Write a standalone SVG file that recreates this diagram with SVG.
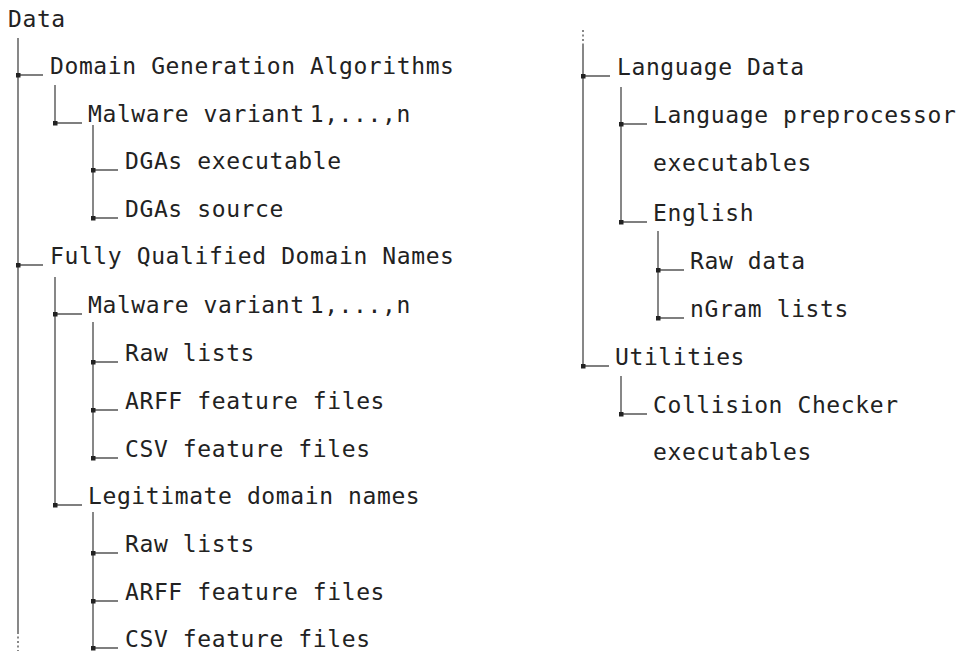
<svg xmlns="http://www.w3.org/2000/svg" width="961" height="651" viewBox="0 0 961 651">
<style>
text{font-family:"DejaVu Sans Mono","Liberation Mono",monospace;font-size:23px;letter-spacing:0.6px;fill:#222}
.ln{stroke:#555;stroke-width:1.4;fill:none}
.dot{stroke:#555;stroke-width:1.4;fill:none;stroke-dasharray:2 2.5}
.mk{fill:#222}
</style>
<rect width="961" height="651" fill="#fff"/>
<g id="connectors">
<!-- left main -->
<path class="ln" d="M18 38V632"/>
<path class="dot" d="M18 632V651"/>
<path class="ln" d="M18 75H43M18 265H43"/>
<path class="ln" d="M55 85V123H82"/>
<path class="ln" d="M93 125V218M93 170H118M93 218H118"/>
<path class="ln" d="M55 277V505M55 314H82M55 505H82"/>
<path class="ln" d="M93 322V458M93 362H118M93 410H118M93 458H118"/>
<path class="ln" d="M93 512V648M93 553H118M93 601H118M93 648H118"/>
<!-- right -->
<path class="dot" d="M583 30V45"/>
<path class="ln" d="M583 45V366M583 76H610M583 366H609"/>
<path class="ln" d="M621 87V222M621 124H647M621 222H647"/>
<path class="ln" d="M658 231V318M658 270H684M658 318H684"/>
<path class="ln" d="M621 376V414H647"/>
<g class="mk">
<rect x="16" y="73" width="4.5" height="4.5"/>
<rect x="16" y="263" width="4.5" height="4.5"/>
<rect x="53" y="121" width="4.5" height="4.5"/>
<rect x="53" y="312" width="4.5" height="4.5"/>
<rect x="53" y="503" width="4.5" height="4.5"/>
<rect x="91" y="168" width="4.5" height="4.5"/>
<rect x="91" y="216" width="4.5" height="4.5"/>
<rect x="91" y="360" width="4.5" height="4.5"/>
<rect x="91" y="408" width="4.5" height="4.5"/>
<rect x="91" y="456" width="4.5" height="4.5"/>
<rect x="91" y="551" width="4.5" height="4.5"/>
<rect x="91" y="599" width="4.5" height="4.5"/>
<rect x="91" y="646" width="4.5" height="4.5"/>
<rect x="581" y="74" width="4.5" height="4.5"/>
<rect x="581" y="364" width="4.5" height="4.5"/>
<rect x="619" y="122" width="4.5" height="4.5"/>
<rect x="619" y="220" width="4.5" height="4.5"/>
<rect x="619" y="412" width="4.5" height="4.5"/>
<rect x="656" y="268" width="4.5" height="4.5"/>
<rect x="656" y="316" width="4.5" height="4.5"/>
</g>
</g>
<g id="data"><text x="8" y="27">Data</text></g>
<g id="dga"><text x="50" y="73.5">Domain Generation Algorithms</text></g>
<g id="dga-malware"><text x="88" y="121.5">Malware variant<tspan dx="5">1,...,n</tspan></text></g>
<g id="dga-exe"><text x="125" y="168.5">DGAs executable</text></g>
<g id="dga-src"><text x="125" y="216.5">DGAs source</text></g>
<g id="fqdn"><text x="50" y="263.5">Fully Qualified Domain Names</text></g>
<g id="fqdn-malware"><text x="88" y="312.5">Malware variant<tspan dx="5">1,...,n</tspan></text></g>
<g id="fqdn-mal-raw"><text x="125" y="360.5">Raw lists</text></g>
<g id="fqdn-mal-arff"><text x="125" y="408.5">ARFF feature files</text></g>
<g id="fqdn-mal-csv"><text x="125" y="456.5">CSV feature files</text></g>
<g id="fqdn-legit"><text x="88" y="503.5">Legitimate domain names</text></g>
<g id="fqdn-leg-raw"><text x="125" y="551.5">Raw lists</text></g>
<g id="fqdn-leg-arff"><text x="125" y="599.5">ARFF feature files</text></g>
<g id="fqdn-leg-csv"><text x="125" y="646.5">CSV feature files</text></g>
<g id="lang"><text x="617" y="74.5">Language Data</text></g>
<g id="lang-pre"><text x="653" y="122.5">Language preprocessor</text><text x="653" y="171">executables</text></g>
<g id="english"><text x="653" y="220.5">English</text></g>
<g id="eng-raw"><text x="690" y="268.5">Raw data</text></g>
<g id="eng-ngram"><text x="690" y="316.5">nGram lists</text></g>
<g id="util"><text x="615" y="364.5">Utilities</text></g>
<g id="collision"><text x="653" y="412.5">Collision Checker</text><text x="653" y="460">executables</text></g>
</svg>
